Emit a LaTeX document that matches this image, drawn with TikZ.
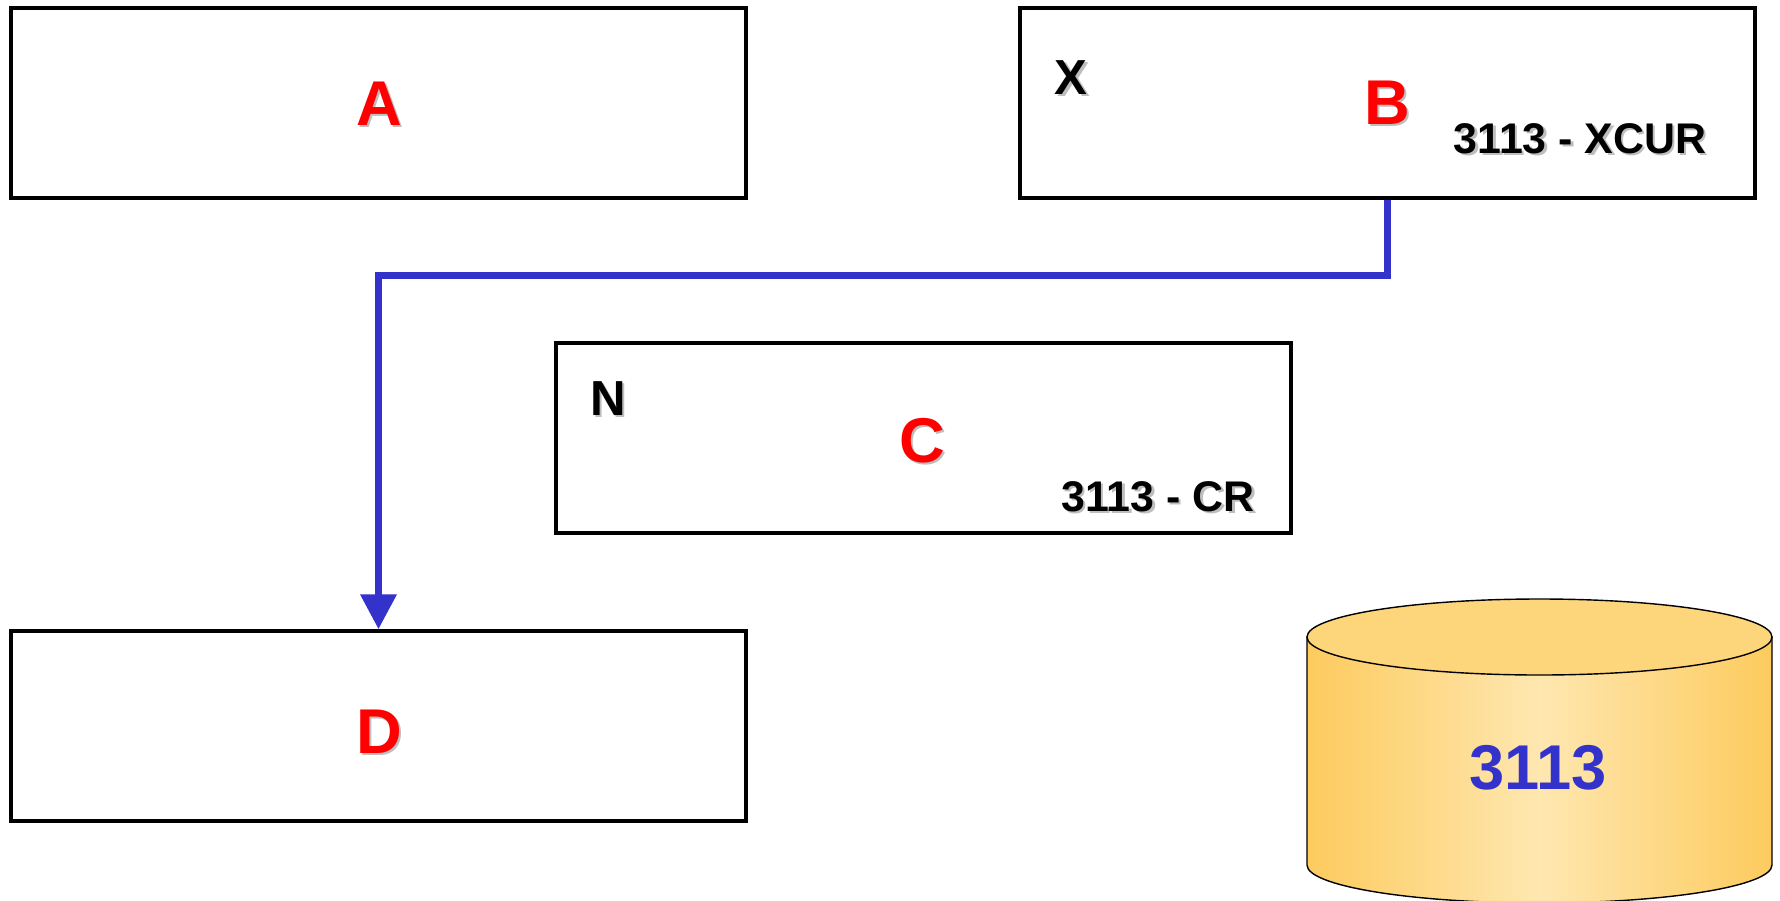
\documentclass[tikz,border=0pt]{standalone}
\usepackage{fontspec}
\setmainfont{Liberation Sans}
\usetikzlibrary{arrows.meta}

\definecolor{flowblue}{HTML}{3333CC}
\definecolor{tagred}{HTML}{FF0000}
\definecolor{drumedge}{HTML}{FDCB5E}
\definecolor{drummid}{HTML}{FEE7B0}
\definecolor{drumtop}{HTML}{FDD67C}
\definecolor{dropgray}{HTML}{BEBEBE}

% label with a small grey drop shadow: name, position, style, text
\newcommand{\droplabel}[4]{%
  \node[#3, text=dropgray, xshift=.025cm, yshift=-.02cm] (#1-sh) at (#2) {#4};
  \node[#3] (#1) at (#2) {#4};}

\begin{document}
\begin{tikzpicture}[
    box/.style={draw, line width=1pt, minimum width=7.35cm, minimum height=1.9cm, inner sep=0pt},
    big/.style={font=\fontsize{18}{18}\selectfont\bfseries, text=tagred, inner sep=0pt},
    tag/.style={font=\fontsize{14}{14}\selectfont\bfseries, inner sep=0pt},
    code/.style={font=\fontsize{12.2}{12}\selectfont\bfseries, inner sep=0pt},
    flow/.style={draw=flowblue, line width=2pt, -{Triangle[width=.35cm,length=.35cm]}}]
  \useasboundingbox (0,0) rectangle (17.8,-9);

  \coordinate (PA) at (3.785,-1.03);
  \coordinate (PB) at (13.875,-1.03);
  \coordinate (PC) at (9.235,-4.38);
  \coordinate (PD) at (3.785,-7.26);

  \node[box] (A) at (PA) {};
  \node[box] (B) at (PB) {};
  \node[box] (C) at (PC) {};
  \node[box] (D) at (PD) {};

  % drum
  \shade[left color=drumedge, right color=drumedge, middle color=drummid, draw=black, line width=.4pt]
    (13.07,-6.37) -- (13.07,-8.65)
    arc[start angle=180, end angle=360, x radius=2.325cm, y radius=.38cm]
    -- (17.72,-6.37) -- cycle;
  \filldraw[fill=drumtop, line width=.4pt] (15.395,-6.37) ellipse[x radius=2.325cm, y radius=.38cm];
  \node[font=\fontsize{18}{18}\selectfont\bfseries, text=flowblue, inner sep=0pt] (drum) at (15.38,-7.68) {3113};

  \droplabel{la}{3.79,-1.04}{big}{A}
  \droplabel{lb}{13.87,-1.03}{big}{B}
  \droplabel{lx}{10.71,-.78}{tag}{X}
  \droplabel{lxcur}{15.80,-1.39}{code}{3113 - XCUR}
  \droplabel{ln}{6.08,-3.99}{tag}{N}
  \droplabel{lc}{9.22,-4.41}{big}{C}
  \droplabel{lcr}{11.58,-4.97}{code}{3113 - CR}
  \droplabel{ld}{3.79,-7.32}{big}{D}

  \draw[flow] (B.south) -- ++(0,-.76) -| (D.north);
\end{tikzpicture}
\end{document}
